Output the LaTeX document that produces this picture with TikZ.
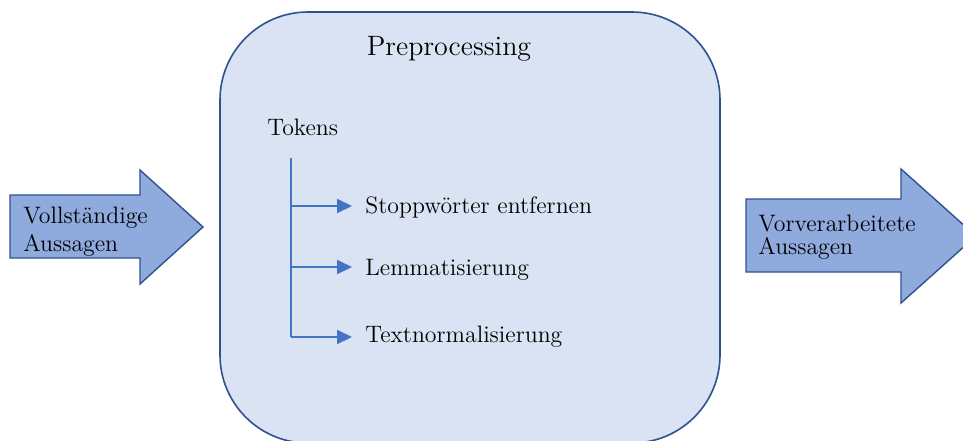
\documentclass[tikz,border=0pt]{standalone}
\usepackage{fontspec}
\usetikzlibrary{arrows.meta}

\definecolor{boxfill}{HTML}{DAE3F3}
\definecolor{boxline}{HTML}{2F528F}
\definecolor{arrowfill}{HTML}{8FAADC}
\definecolor{treeline}{HTML}{4472C4}

\tikzset{
  stage/.style={fill=boxfill, draw=boxline, line width=0.8pt, rounded corners=44pt},
  bigarrow/.style={fill=arrowfill, draw=boxline, line width=0.7pt, line join=miter},
  label/.style={inner sep=0pt, font=\fontsize{11.9}{14}\selectfont},
  branch/.style={draw=treeline, line width=1pt, -{Triangle[length=7.5pt,width=7pt]}, shorten >=6.5pt},
  trunk/.style={draw=treeline, line width=1pt}
}

\begin{document}
\begin{tikzpicture}[x=0.5pt, y=-0.5pt]
  \useasboundingbox (0,0) rectangle (963,440);
  \clip (0,0) rectangle (963,440);

  % Preprocessing stage
  \draw[stage] (220,12) rectangle (720,443);
  \node[inner sep=0pt, anchor=base, font=\fontsize{14}{16}\selectfont] (title) at (449,55) {Preprocessing};

  % input arrow
  \draw[bigarrow] (10,195) -- (140,195) -- (140,170) -- (203,227) -- (140,284)
    -- (140,258) -- (10,258) -- cycle;
  \node[label, anchor=base west, align=left, font=\fontsize{11.9}{14}\selectfont] (input) at (23,251)
    {Vollständige\\Aussagen};

  % output arrow
  \draw[bigarrow] (746,199) -- (901,199) -- (901,169) -- (976,236) -- (901,303)
    -- (901,272) -- (746,272) -- cycle;
  \node[label, anchor=base west, align=left, font=\fontsize{11.9}{11.5}\selectfont] (output) at (758,254)
    {Vorverarbeitete\\Aussagen};

  % token tree
  \node[label, anchor=base west] (tokens) at (267,135) {Tokens};
  \node[label, anchor=base west] (stop) at (365,213) {Stoppwörter entfernen};
  \node[label, anchor=base west] (lemma) at (365,275) {Lemmatisierung};
  \node[label, anchor=base west] (norm) at (365,342) {Textnormalisierung};

  \coordinate (top) at (291,158);
  \coordinate (j1) at (291,206);
  \coordinate (j2) at (291,267);
  \coordinate (j3) at (291,337);

  \draw[trunk] (top) -- (j3);
  \draw[branch] (j1) -- (j1 -| stop.west);
  \draw[branch] (j2) -- (j2 -| lemma.west);
  \draw[branch] (j3) -- (j3 -| norm.west);
\end{tikzpicture}
\end{document}
